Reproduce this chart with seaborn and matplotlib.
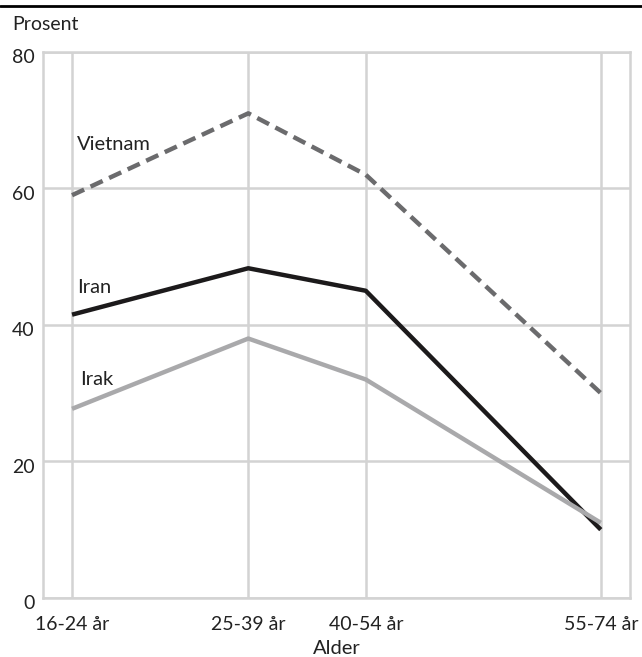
import matplotlib
matplotlib.use('Agg')
import matplotlib.pyplot as plt
import matplotlib.transforms as mtrans
import seaborn as sns
import pandas as pd
from matplotlib.lines import Line2D

# Age groups and their positions on the x axis (spaced as in the source)
age_groups = ['16-24 år', '25-39 år', '40-54 år', '55-74 år']
age_pos = [0, 1.5, 2.5, 4.5]

vietnam = [59, 71, 62, 30]
iran = [41.5, 48.3, 45, 10]
irak = [27.7, 38, 32, 11]

y_ticks = [0, 20, 40, 60, 80]

sns.set_style('white')
plt.rcParams['font.family'] = ['Lato', 'DejaVu Sans']

fig = plt.figure(figsize=(6.42, 6.57), dpi=100)
ax = fig.add_axes([0.067, 0.09, 0.914, 0.831])

series = [
    ('Vietnam', vietnam, '#6b6b6d', (3.0, 1.6)),
    ('Iran', iran, '#1c1a1b', None),
    ('Irak', irak, '#a9a9ab', None),
]
for name, values, color, dash in series:
    df = pd.DataFrame({'pos': age_pos, 'val': values})
    sns.lineplot(data=df, x='pos', y='val', color=color, linewidth=3.2, ax=ax)
    line = ax.get_lines()[-1]
    line.set_solid_capstyle('butt')
    if dash:
        line.set_dashes(dash)

# series labels
lab = dict(fontsize=14.5, color='#222222', va='center')
ax.text(0.045, 66.5, 'Vietnam', **lab)
ax.text(0.045, 45.5, 'Iran', **lab)
ax.text(0.065, 32, 'Irak', **lab)

ax.set_xlim(-0.247, 4.747)
ax.set_ylim(0, 80)
ax.set_xticks(age_pos)
ax.set_xticklabels(age_groups, fontsize=14)
ax.set_yticks(y_ticks)
ax.set_yticklabels([str(t) for t in y_ticks], fontsize=14)
ax.tick_params(axis='x', length=0, pad=13, colors='#222222')
ax.tick_params(axis='y', length=0, pad=6, colors='#222222')
# y labels sit a little below their gridlines in the source
shift = mtrans.ScaledTranslation(0, -3 / 72, fig.dpi_scale_trans)
for t in ax.get_yticklabels():
    t.set_transform(t.get_transform() + shift)
ax.grid(True, color='#d3d3d3', linewidth=1.8)
ax.set_axisbelow(True)
for s in ax.spines.values():
    s.set_color('#d3d3d3')
    s.set_linewidth(1.8)

ax.set_xlabel('Alder', fontsize=14.5, color='#222222', labelpad=5)
ax.set_ylabel('')
fig.text(0.019, 0.963, 'Prosent', fontsize=14, color='#222222', va='center')

# top rule
fig.add_artist(Line2D([0, 1], [0.991, 0.991], color='black', linewidth=2,
                      transform=fig.transFigure))

plt.savefig('out.png', dpi=100)
plt.close()
